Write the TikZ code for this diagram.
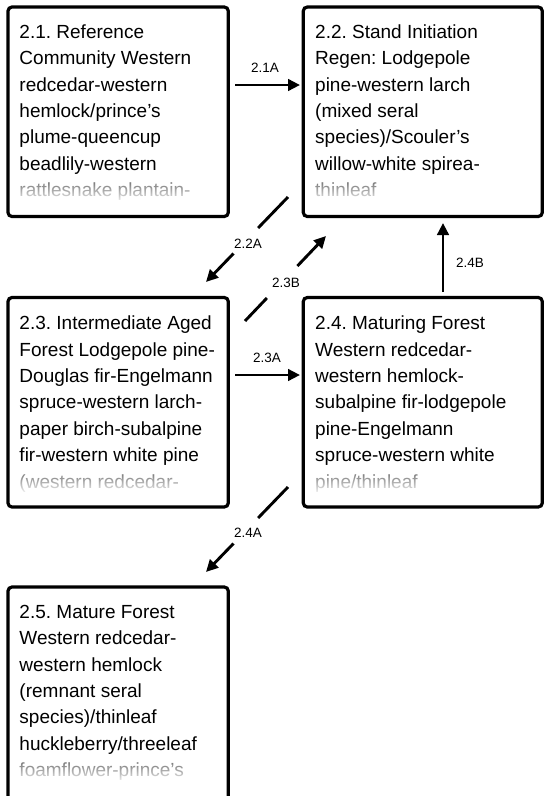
\documentclass[tikz,border=0pt]{standalone}
\usepackage{fontspec}
\setmainfont{Liberation Sans}
\usetikzlibrary{arrows.meta,fadings}
\tikzfading[name=fadedown, top color=transparent!100, bottom color=transparent!10]
\colorlet{fadegray}{black!52}
\frenchspacing
\begin{document}
\begin{tikzpicture}[x=1pt,y=-1pt,
  box/.style={draw=black, line width=3.2pt, rounded corners=4pt, outer sep=0pt, inner sep=0pt, anchor=north west, minimum height=209.5pt},
  txt/.style={anchor=north west, inner sep=0pt, align=left, font=\fontsize{19}{26.4}\selectfont},
  lbl/.style={inner sep=0pt, font=\fontsize{13.5}{15}\selectfont},
  conn/.style={line width=2.9pt},
  arr/.style={line width=2.9pt, -{Triangle[length=12pt,width=11.5pt]}},
  fade/.style={fill=white, path fading=fadedown}
]
\useasboundingbox (0,0) rectangle (544,796);
\fill[white] (0,0) rectangle (544,796);

% boxes
\node[box, minimum width=220.3pt] (b21) at (8,7) {};
\node[box, minimum width=239pt] (b22) at (303.3,7) {};
\node[box, minimum width=220.3pt] (b23) at (8,297.5) {};
\node[box, minimum width=239pt] (b24) at (303.3,297.5) {};
\node[box, minimum width=220.3pt, minimum height=260pt] (b25) at (8,587) {};

% texts
\node[txt] (t21) at (19.3,19.52) {\strut 2.1. Reference\\Community Western\\redcedar-western\\hemlock/prince’s\\plume-queencup\\beadlily-western\\\textcolor{fadegray}{rattlesnake plantain-}};
\node[txt] (t22) at (315,19.52) {\strut 2.2. Stand Initiation\\Regen: Lodgepole\\pine-western larch\\(mixed seral\\species)/Scouler’s\\willow-white spirea-\\\textcolor{fadegray}{thinleaf}};
\node[txt] (t23) at (19.3,311.02) {\strut 2.3. Intermediate Aged\\Forest Lodgepole pine-\\Douglas fir-Engelmann\\spruce-western larch-\\paper birch-subalpine\\fir-western white pine\\\textcolor{fadegray}{(western redcedar-}};
\node[txt] (t24) at (315,311.02) {\strut 2.4. Maturing Forest\\Western redcedar-\\western hemlock-\\subalpine fir-lodgepole\\pine-Engelmann\\spruce-western white\\\textcolor{fadegray}{pine/thinleaf}};
\node[txt] (t25) at (19.3,599.52) {\strut 2.5. Mature Forest\\Western redcedar-\\western hemlock\\(remnant seral\\species)/thinleaf\\huckleberry/threeleaf\\\textcolor{fadegray}{foamflower-prince’s}};

% fades over last lines
\fill[fade] (11,182) rectangle (225,202);
\fill[fade] (307,182) rectangle (539,202);
\fill[fade] (11,473) rectangle (225,493);
\fill[fade] (307,473) rectangle (539,493);
\fill[fade] (11,762) rectangle (225,782);

% 2.1A
\coordinate (a1s) at (235,85);
\coordinate (a1e) at (300,85);
\draw[arr] (a1s) -- (a1e);
\node[lbl] (l1) at (265,67.5) {2.1A};

% 2.2A
\coordinate (p1) at (288,197);
\coordinate (p2) at (258.1,228);
\coordinate (p3) at (233.5,253.5);
\coordinate (p4) at (206,282);
\draw[conn] (p1) -- (p2);
\draw[arr] (p3) -- (p4);
\node[lbl] (l2) at (248,244) {2.2A};

% 2.3B
\coordinate (q1) at (245,321);
\coordinate (q2) at (266.9,298);
\coordinate (q3) at (297.4,266);
\coordinate (q4) at (326,236);
\draw[conn] (q1) -- (q2);
\draw[arr] (q3) -- (q4);
\node[lbl] (l3) at (286,283) {2.3B};

% 2.4B
\coordinate (r1) at (443,292);
\coordinate (r2) at (443,223);
\draw[arr] (r1) -- (r2);
\node[lbl] (l4) at (470,263) {2.4B};

% 2.3A
\coordinate (s1) at (235,375);
\coordinate (s2) at (300,375);
\draw[arr] (s1) -- (s2);
\node[lbl] (l5) at (267,358) {2.3A};

% 2.4A
\coordinate (u1) at (288,487);
\coordinate (u2) at (258.1,518);
\coordinate (u3) at (233.5,543.5);
\coordinate (u4) at (206,572);
\draw[conn] (u1) -- (u2);
\draw[arr] (u3) -- (u4);
\node[lbl] (l6) at (248,533) {2.4A};
\end{tikzpicture}
\end{document}
